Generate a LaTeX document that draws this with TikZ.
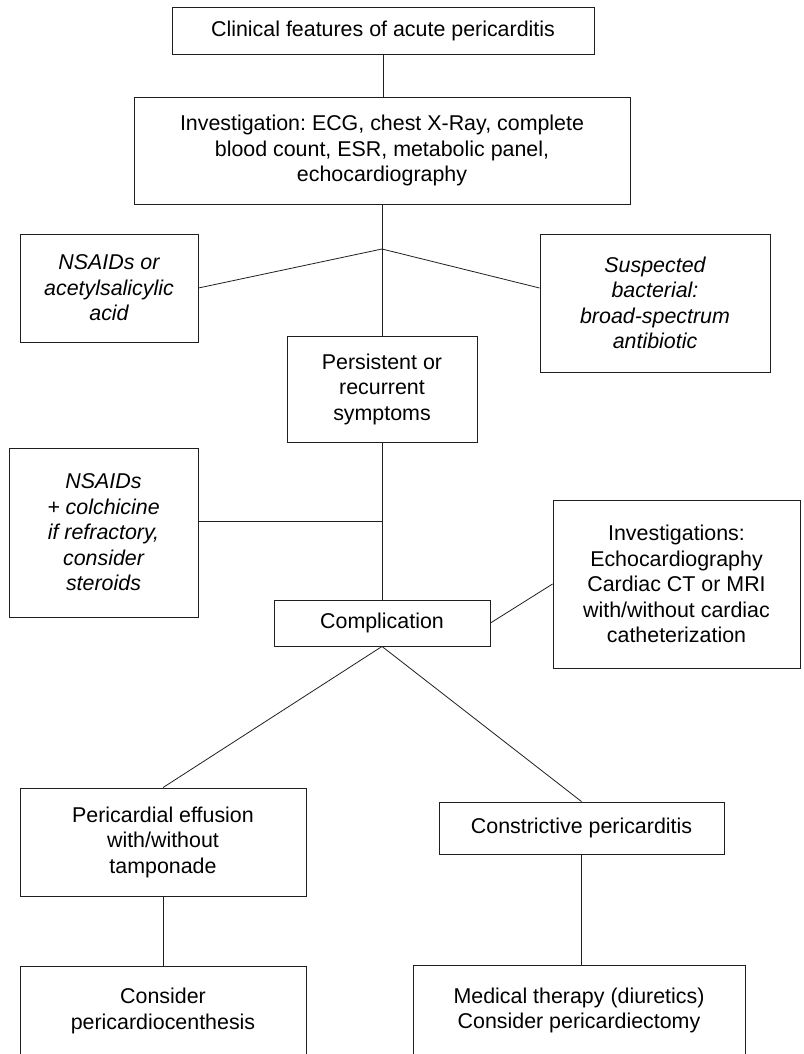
\documentclass[tikz,border=0pt]{standalone}
\usepackage{fontspec}
\setmainfont{Liberation Sans}
\usetikzlibrary{calc}
\frenchspacing
\definecolor{ink}{gray}{0.12}
\tikzstyle{block} = [draw=ink, rectangle, line width=0.9pt, inner sep=0pt, align=center, font=\fontsize{21.4}{25.5}\selectfont]
\tikzstyle{therapy} = [block, font=\fontsize{21.4}{25.5}\selectfont\itshape]
\tikzstyle{junction} = [coordinate]
\tikzstyle{link} = [draw=ink, line width=0.8pt]

\begin{document}
\begin{tikzpicture}[x=1pt, y=-1pt]
    \useasboundingbox (0,0) rectangle (803,1054);

    \node[block, name=clinical, minimum width=422pt, minimum height=47pt] at (383,30.5) {Clinical features of acute pericarditis};
    \node[block, name=invest, minimum width=496pt, minimum height=107pt] at (382,150.5) {Investigation: ECG, chest X-Ray, complete\\blood count, ESR, metabolic panel,\\echocardiography};
    \node[therapy, name=nsaid, minimum width=178pt, minimum height=108pt] at (109,288) {NSAIDs or\\acetylsalicylic\\acid};
    \node[therapy, name=bacterial, minimum width=230pt, minimum height=138pt] at (655,303) {Suspected\\bacterial:\\broad-spectrum\\antibiotic};
    \node[block, name=persist, minimum width=190pt, minimum height=106pt] at (382,389) {Persistent or\\recurrent\\symptoms};
    \node[therapy, name=colchicine, minimum width=189pt, minimum height=169pt] at (103.5,532.5) {NSAIDs\\+ colchicine\\if refractory,\\consider\\steroids};
    \node[block, name=complication, minimum width=216pt, minimum height=46pt] at (382,623) {Complication};
    \node[block, name=imaging, minimum width=247pt, minimum height=168pt] at (676.5,584) {Investigations:\\Echocardiography\\Cardiac CT or MRI\\with/without cardiac\\catheterization};
    \node[block, name=effusion, minimum width=286pt, minimum height=108pt] at (163,842) {Pericardial effusion\\with/without\\tamponade};
    \node[block, name=constrict, minimum width=285pt, minimum height=52pt] at (581.5,828) {Constrictive pericarditis};
    \node[block, name=tap, minimum width=286pt, minimum height=90pt] at (163,1011) {Consider\\pericardiocenthesis};
    \node[block, name=medical, minimum width=332pt, minimum height=91pt] at (579,1010.5) {Medical therapy (diuretics)\\Consider pericardiectomy};

    \node[junction, name=fork] at (382,249) {};
    \node[junction, name=side] at (382,521) {};

    \draw[link] (clinical.south) -- (clinical.south |- invest.north);
    \draw[link] (invest.south) -- (persist.north);
    \draw[link] (fork) -- (nsaid.east);
    \draw[link] (fork) -- (bacterial.west |- nsaid.east);
    \draw[link] (persist.south) -- (complication.north);
    \draw[link] (side) -- (side -| colchicine.east);
    \draw[link] (complication.east) -- (imaging.west);
    \draw[link] (complication.south) -- (effusion.north);
    \draw[link] (complication.south) -- (constrict.north);
    \draw[link] (effusion.south) -- (tap.north);
    \draw[link] (constrict.south) -- (constrict.south |- medical.north);
\end{tikzpicture}
\end{document}
